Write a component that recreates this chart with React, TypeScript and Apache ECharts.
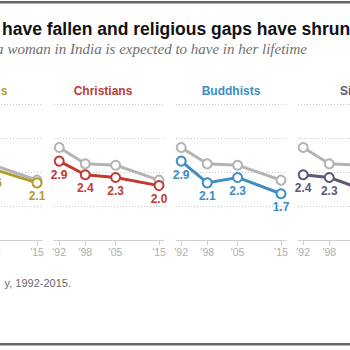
import React, { useEffect, useRef } from "react";
import * as echarts from "echarts";

const years = [1992, 1998, 2005, 2015];
const tickYears = [1992, 1998, 2005, 2015];
const allIndia = [3.4, 2.8, 2.75, 2.2];
const hindus = [3.3, 2.8, 2.6, 2.1];
const christians = [2.9, 2.4, 2.3, 2.0];
const buddhists = [2.9, 2.1, 2.3, 1.7];
const sikhs = [2.4, 2.3, 1.9, 1.6];
const groupNames = ["Hindus", "Christians", "Buddhists", "Sikhs"];
const groupValues = [hindus, christians, buddhists, sikhs];
const groupColors = ["#b39b2d", "#c13b30", "#3c8ec4", "#5b5779"];

// The chart canvas is wider than the window and shifted left, so the
// partially visible panels at both edges are laid out like the others.
const OFFSET = 130;
const CANVAS_W = 620;
const PANEL_LEFTS = [-68, 54, 176, 298];
const TITLE_SHIFT = [0, -6, 0, 3];
const PANEL_W = 110;
const GRID_TOP = 104;
const GRID_H = 136;
const GRAY = "#b3b3b3";

export default function App() {
  const ref = useRef<HTMLDivElement>(null);

  useEffect(() => {
    if (!ref.current) return;
    const chart = echarts.init(ref.current, undefined, { renderer: "svg" });

    const grid: any[] = [];
    const xAxis: any[] = [];
    const yAxis: any[] = [];
    const series: any[] = [];
    const graphic: any[] = [];

    groupNames.forEach((name, i) => {
      grid.push({
        left: PANEL_LEFTS[i] + OFFSET,
        top: GRID_TOP,
        width: PANEL_W,
        height: GRID_H,
        containLabel: false,
        outerBoundsMode: "none",
      });
      xAxis.push({
        gridIndex: i,
        type: "value",
        min: 1990.8,
        max: 2016.15,
        splitLine: { show: false },
        axisLine: { show: true, lineStyle: { color: "#cfcfcf", width: 1 } },
        axisTick: {
          show: true,
          customValues: tickYears,
          length: 5,
          lineStyle: { color: "#cfcfcf" },
        },
        axisLabel: {
          show: true,
          customValues: tickYears,
          margin: 6,
          color: "#adadad",
          fontSize: 10.5,
          fontFamily: "Liberation Sans",
          formatter: (v: number) => "'" + String(v).slice(2),
        },
      });
      yAxis.push({
        gridIndex: i,
        type: "value",
        min: 0,
        max: 5,
        interval: 1.25,
        axisLine: { show: false },
        axisTick: { show: false },
        axisLabel: { show: false },
        splitLine: { show: true, lineStyle: { color: "#c8c8c8", type: [1, 2], width: 1 } },
      });
      series.push({
        type: "line",
        xAxisIndex: i,
        yAxisIndex: i,
        data: years.map((y, k) => [y, allIndia[k]]),
        symbol: "circle",
        symbolSize: 9,
        lineStyle: { color: GRAY, width: 3 },
        itemStyle: { color: "#fff", borderColor: GRAY, borderWidth: 2 },
        z: 2,
        silent: true,
      });
      series.push({
        type: "line",
        xAxisIndex: i,
        yAxisIndex: i,
        data: years.map((y, k) => [y, groupValues[i][k]]),
        symbol: "circle",
        symbolSize: 9,
        lineStyle: { color: groupColors[i], width: 3 },
        itemStyle: { color: "#fff", borderColor: groupColors[i], borderWidth: 2 },
        label: {
          show: true,
          position: "bottom",
          distance: 2,
          color: groupColors[i],
          fontWeight: "bold",
          fontSize: 12,
          fontFamily: "Liberation Sans",
          formatter: (p: any) => p.value[1].toFixed(1),
        },
        z: 3,
        silent: true,
      });
      graphic.push({
        type: "text",
        x: PANEL_LEFTS[i] + PANEL_W / 2 + TITLE_SHIFT[i] + OFFSET,
        y: 91,
        style: {
          text: name,
          fill: groupColors[i],
          font: "bold 12px 'Liberation Sans'",
          align: "center",
          verticalAlign: "middle",
        },
      });
    });

    graphic.push(
      { type: "rect", shape: { x: OFFSET, y: 1, width: 350, height: 2.5 }, style: { fill: "#666" } },
      { type: "rect", shape: { x: OFFSET, y: 343, width: 350, height: 2.5 }, style: { fill: "#666" } },
      {
        type: "text",
        x: 2 + OFFSET,
        y: 29,
        style: {
          text: "have fallen and religious gaps have shrunk",
          fill: "#111",
          font: "bold 17.5px 'Liberation Sans'",
          align: "left",
          verticalAlign: "middle",
        },
      },
      {
        type: "text",
        x: 3.5 + OFFSET,
        y: 49,
        style: {
          text: "a",
          fill: "#6f6f6f",
          font: "italic 15px 'Liberation Serif'",
          align: "right",
          verticalAlign: "middle",
        },
      },
      {
        type: "text",
        x: 7.5 + OFFSET,
        y: 49,
        style: {
          text: "woman in India is expected to have in her lifetime",
          fill: "#6f6f6f",
          font: "italic 15px 'Liberation Serif'",
          align: "left",
          verticalAlign: "middle",
        },
      },
      {
        type: "text",
        x: 71 + OFFSET,
        y: 283,
        style: {
          text: "y, 1992-2015.",
          fill: "#6a6a6a",
          font: "11px 'Liberation Sans'",
          align: "right",
          verticalAlign: "middle",
        },
      }
    );

    chart.setOption({
      animation: false,
      backgroundColor: "#fff",
      grid,
      xAxis,
      yAxis,
      series,
      graphic,
    });

    return () => chart.dispose();
  }, []);

  return (
    <div style={{ position: "absolute", left: 0, top: 0, width: 350, height: 350, overflow: "hidden" }}>
      <div
        ref={ref}
        style={{ position: "absolute", left: -OFFSET, top: 0, width: CANVAS_W, height: 350 }}
      />
    </div>
  );
}
